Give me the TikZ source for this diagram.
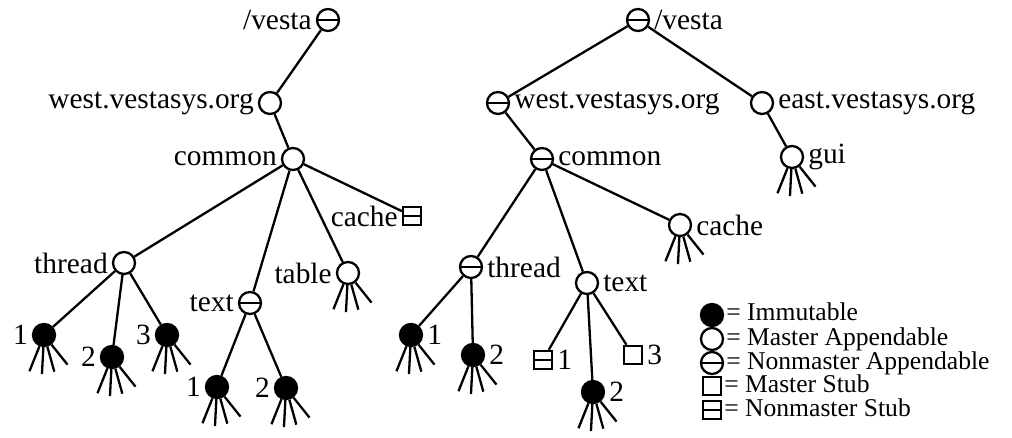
\documentclass[tikz,border=0pt]{standalone}
\usepackage{fontspec}
\setmainfont{Liberation Serif}
\newcommand\bigtxt{\fontsize{14.7}{16}\selectfont}
\newcommand\keytxt{\fontsize{12.8}{14}\selectfont}
\tikzset{
  vnode/.style={circle,draw,inner sep=0pt,minimum size=11pt},
  imm/.style={vnode,fill=black},
  mapp/.style={vnode,fill=white},
  napp/.style={vnode,fill=white,path picture={\draw (path picture bounding box.west)--(path picture bounding box.east);}},
  mstub/.style={rectangle,draw,inner sep=0pt,minimum size=9pt,fill=white},
  nstub/.style={mstub,path picture={\draw (path picture bounding box.west)--(path picture bounding box.east);}},
  keyline/.style={anchor=west,inner sep=0.5pt,text height=8pt,text depth=2pt,font=\keytxt},
  every label/.style={inner sep=1.5pt,font=\bigtxt},
  label distance=0pt
}
% four stubs hanging under a directory node
\newcommand\fan[1]{\draw (#1.248)--++(-10,25) (#1.267)--++(-1.4,27) (#1.286)--++(7,25) (#1.308)--++(16,20);}
\begin{document}
\begin{tikzpicture}[x=0.5pt,y=-0.5pt,line width=1.15pt]
        \useasboundingbox (0,0) rectangle (1012,438);
        % left tree
        \node [napp,label=left:/vesta] (lroot) at (328,20) {};
        \node [mapp,label=left:west.vestasys.org] (lwest) at (270,103) {};
        \node [mapp,label=left:common] (lcommon) at (293,159) {};
        \node [nstub,label=left:cache] (lcache) at (412,216) {};
        \node [mapp,label=left:thread] (lthread) at (124,263) {};
        \node [mapp,label=left:table] (ltable) at (348,273) {};
        \node [napp,label=left:text] (ltext) at (250,303) {};
        \node [imm,label=left:1] (lth1) at (44,335) {};
        \node [imm,label=left:2] (lth2) at (112,357) {};
        \node [imm,label=left:3] (lth3) at (167,335) {};
        \node [imm,label=left:1] (ltx1) at (217,387) {};
        \node [imm,label=left:2] (ltx2) at (286,388) {};
        \draw (lroot)--(lwest) (lwest)--(lcommon) (lcommon)--(lcache) (lcommon)--(lthread) (lcommon)--(ltable) (lcommon)--(ltext);
        \draw (lthread)--(lth1) (lthread)--(lth2) (lthread)--(lth3) (ltext)--(ltx1) (ltext)--(ltx2);
        \fan{ltable} \fan{lth1} \fan{lth2} \fan{lth3} \fan{ltx1} \fan{ltx2}
        % right tree
        \node [napp,label=right:/vesta] (rroot) at (638,20) {};
        \node [napp,label=right:west.vestasys.org] (rwest) at (498,103) {};
        \node [mapp,label=right:east.vestasys.org] (reast) at (762,103) {};
        \node [mapp,label=right:gui] (rgui) at (792,157) {};
        \node [napp,label=right:common] (rcommon) at (542,159) {};
        \node [mapp,label=right:cache] (rcache) at (680,225) {};
        \node [napp,label=right:thread] (rthread) at (471,267) {};
        \node [mapp,label=right:text] (rtext) at (587,283) {};
        \node [imm,label=right:1] (rth1) at (411,335) {};
        \node [imm,label=right:2] (rth2) at (473,355) {};
        \node [nstub,label=right:1] (rtx1) at (543,360) {};
        \node [imm,label=right:2] (rtx2) at (593,392) {};
        \node [mstub,label=right:3] (rtx3) at (633,355) {};
        \draw (rroot)--(rwest) (rroot)--(reast) (reast)--(rgui) (rwest)--(rcommon) (rcommon)--(rthread) (rcommon)--(rtext) (rcommon)--(rcache);
        \draw (rthread)--(rth1) (rthread)--(rth2) (rtext)--(rtx1) (rtext)--(rtx2) (rtext)--(rtx3);
        \fan{rgui} \fan{rcache} \fan{rth1} \fan{rth2} \fan{rtx2}
        % key
        \node [imm] (kimm) at (712,315) {};
        \node [mapp] (kmapp) at (712,339) {};
        \node [napp] (knapp) at (712,363) {};
        \node [mstub] (kmstub) at (712,386) {};
        \node [nstub] (knstub) at (712,410) {};
        \node [keyline] (timm) at (kimm.east) {= Immutable};
        \node [keyline] (tmapp) at (kmapp.east) {= Master Appendable};
        \node [keyline] (tnapp) at (knapp.east) {= Nonmaster Appendable};
        \node [keyline] (tmstub) at (kmstub.east) {= Master Stub};
        \node [keyline] (tnstub) at (knstub.east) {= Nonmaster Stub};
\end{tikzpicture}
\end{document}
